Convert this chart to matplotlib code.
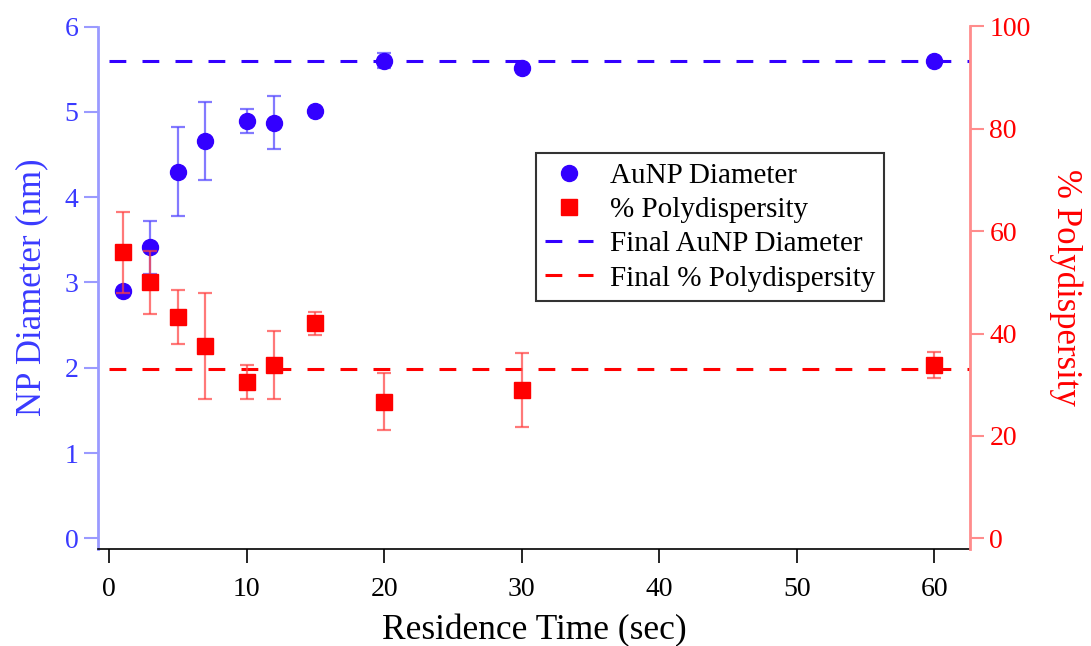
import matplotlib
matplotlib.use("Agg")
import matplotlib.pyplot as plt
from matplotlib.lines import Line2D

plt.rcParams['font.family'] = ['Liberation Serif', 'DejaVu Serif']

# ---- data ----
time_s = [1, 3, 5, 7, 10, 12, 15, 20, 30, 60]
diameter_nm = [2.90, 3.41, 4.30, 4.66, 4.89, 4.87, 5.01, 5.60, 5.51, 5.59]
diameter_err = [0.03, 0.31, 0.52, 0.46, 0.14, 0.31, 0.02, 0.09, 0.02, 0.02]
polydisp = [55.9, 50.0, 43.2, 37.6, 30.6, 33.9, 42.0, 26.7, 29.0, 33.9]
polydisp_err = [7.9, 6.2, 5.3, 10.3, 3.3, 6.6, 2.2, 5.5, 7.2, 2.5]
final_diameter = 5.6
final_polydisp = 33.0
xticks = [0, 10, 20, 30, 40, 50, 60]
yticks_left = [0, 1, 2, 3, 4, 5, 6]
yticks_right = [0, 20, 40, 60, 80, 100]

BLUE = '#3300ff'
RED = '#ff0000'

W, H = 1091, 646
fig = plt.figure(figsize=(W / 100, H / 100), dpi=100)
left_px, right_px, top_px, bottom_px = 98, 970, 26.5, 549
ax = fig.add_axes([left_px / W, (H - bottom_px) / H,
                   (right_px - left_px) / W, (bottom_px - top_px) / H])
ax2 = ax.twinx()

xmin, xmax = -0.8, 62.6
ax.set_xlim(xmin, xmax)
ax.set_ylim(-0.125, 6)
ax2.set_ylim(-2.1, 100)

# blue diameter
ax.errorbar(time_s, diameter_nm, yerr=diameter_err, fmt='o', color=BLUE,
            markersize=11.5, ecolor=(0.35, 0.3, 1.0, 0.75), elinewidth=1.6,
            capsize=5, capthick=1.6, zorder=3)
ax.hlines(final_diameter, 0, xmax, colors=BLUE, linestyles=(0, (5.5, 5.3)),
          linewidth=2.2, zorder=2)

# red polydispersity
ax2.errorbar(time_s, polydisp, yerr=polydisp_err, fmt='s', color=RED,
             markersize=11, ecolor=(1.0, 0.25, 0.25, 0.7), elinewidth=1.6,
             capsize=5, capthick=1.6, zorder=3)
ax2.hlines(final_polydisp, 0, xmax, colors=RED, linestyles=(0, (5.5, 5.3)),
           linewidth=2.2, zorder=2)

# spines
for a in (ax, ax2):
    a.spines['top'].set_visible(False)
ax.spines['right'].set_visible(False)
ax2.spines['left'].set_visible(False)
ax2.spines['bottom'].set_visible(False)
ax.spines['left'].set_color('#9a9aff')
ax.spines['left'].set_linewidth(2)
ax2.spines['right'].set_color('#ff8c8c')
ax2.spines['right'].set_linewidth(2)
ax.spines['bottom'].set_color('black')
ax.spines['bottom'].set_linewidth(1.2)

ax.set_xticks(xticks)
ax.set_yticks(yticks_left)
ax2.set_yticks(yticks_right)
ax.tick_params(axis='x', direction='out', length=10, width=1.2, color='black',
               labelsize=20, pad=10)
ax.tick_params(axis='y', direction='out', length=10, width=1.5, color='#9a9aff',
               labelcolor='#3a3aff', labelsize=20, pad=4)
ax2.tick_params(axis='y', direction='out', length=10, width=1.5, color='#ff8c8c',
                labelcolor=RED, labelsize=20, pad=4)

ax.set_xlabel('Residence Time (sec)', fontsize=25.5, labelpad=9)
ax.set_ylabel('NP Diameter (nm)', fontsize=25, color='#3a3aff', labelpad=12)
ax2.set_ylabel('% Polydispersity', fontsize=25, color=RED, rotation=270,
               labelpad=37)

handles = [
    Line2D([], [], marker='o', linestyle='none', color=BLUE, markersize=11.5),
    Line2D([], [], marker='s', linestyle='none', color=RED, markersize=11),
    Line2D([], [], color=BLUE, linestyle=(0, (5.5, 5.3)), linewidth=2.2),
    Line2D([], [], color=RED, linestyle=(0, (5.5, 5.3)), linewidth=2.2),
]
labels = ['AuNP Diameter', '% Polydispersity', 'Final AuNP Diameter',
          'Final % Polydispersity']
leg = ax2.legend(handles, labels, loc='upper left',
                 bbox_to_anchor=((536 - left_px) / (right_px - left_px),
                                 (bottom_px - 153) / (bottom_px - top_px)),
                 fontsize=21, frameon=True, fancybox=False, framealpha=1,
                 edgecolor='#333333', handlelength=1.65, handletextpad=0.55,
                 labelspacing=0.27, borderpad=0.32, borderaxespad=0)
leg.get_frame().set_linewidth(1.5)

fig.savefig('out.png', dpi=100)
